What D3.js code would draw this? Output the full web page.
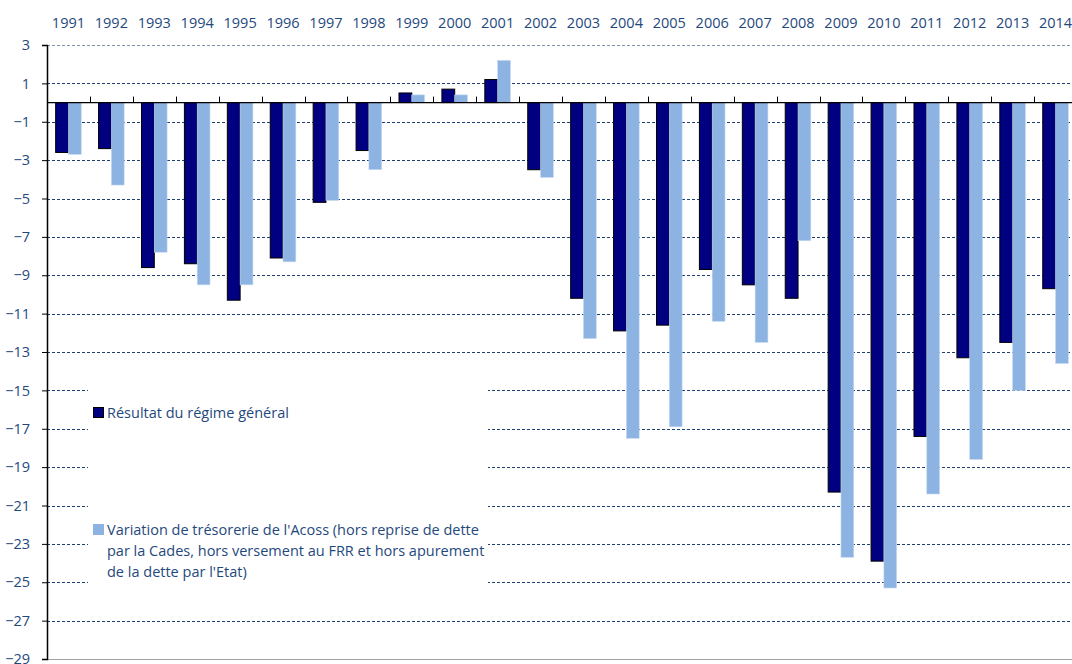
<!DOCTYPE html>
<html>
<head>
<meta charset="utf-8">
<script src="https://cdn.jsdelivr.net/npm/d3@7"></script>
<style>
  body { margin: 0; background: #fff; }
  svg { display: block; font-family: "Open Sans", sans-serif; }
  .lbl { fill: #1f497d; font-size: 14.5px; }
</style>
</head>
<body>
<svg id="chart" width="1072" height="664"></svg>
<script>
const years = ["1991","1992","1993","1994","1995","1996","1997","1998","1999","2000","2001","2002",
  "2003","2004","2005","2006","2007","2008","2009","2010","2011","2012","2013","2014"];
const resultat = [-2.6, -2.4, -8.6, -8.4, -10.3, -8.1, -5.2, -2.5, 0.5, 0.7, 1.2, -3.5,
  -10.2, -11.9, -11.6, -8.7, -9.5, -10.2, -20.3, -23.9, -17.4, -13.3, -12.5, -9.7];
const tresorerie = [-2.7, -4.3, -7.8, -9.5, -9.5, -8.3, -5.1, -3.5, 0.4, 0.4, 2.2, -3.9,
  -12.3, -17.5, -16.9, -11.4, -12.5, -7.2, -23.7, -25.3, -20.4, -18.6, -15.0, -13.6];
const yTicks = [3, 1, -1, -3, -5, -7, -9, -11, -13, -15, -17, -19, -21, -23, -25, -27, -29];
const seriesNames = ["Résultat du régime général",
  "Variation de trésorerie de l'Acoss (hors reprise de dette|par la Cades, hors versement au FRR et hors apurement|de la dette par l'Etat)"];

const svg = d3.select("#chart");
const mLeft = 47, mRight = 1077, mTop = 45, mBottom = 659;

const x = d3.scaleBand().domain(years).range([mLeft, mRight]);
const y = d3.scaleLinear().domain([-29, 3]).range([mBottom, mTop]);
const inner = d3.scaleBand().domain([0, 1]).range([0, 25.6]);
const offset = (x.bandwidth() - 25.6) / 2;

// gridlines
svg.append("g").selectAll("line")
  .data(yTicks.filter(d => d !== -29))
  .enter().append("line")
  .attr("x1", mLeft).attr("x2", mRight)
  .attr("y1", d => Math.round(y(d)) + 0.5).attr("y2", d => Math.round(y(d)) + 0.5)
  .attr("stroke", d => d === 3 ? "#8494a8" : "#1f3f6f")
  .attr("stroke-width", 1)
  .attr("stroke-dasharray", "3,2");

// bottom line
svg.append("line")
  .attr("x1", mLeft).attr("x2", mRight)
  .attr("y1", Math.round(y(-29)) + 0.5).attr("y2", Math.round(y(-29)) + 0.5)
  .attr("stroke", "#a0a0a0");

// legend background (covers the gridlines)
svg.append("rect")
  .attr("x", 88).attr("y", 384).attr("width", 400).attr("height", 214)
  .attr("fill", "#fff");

// bars
const groups = svg.append("g").selectAll("g")
  .data(years)
  .enter().append("g")
  .attr("transform", d => `translate(${x(d) + offset},0)`);

groups.append("rect")
  .attr("x", inner(0))
  .attr("width", inner.bandwidth())
  .attr("y", (d, i) => y(Math.max(0, resultat[i])))
  .attr("height", (d, i) => Math.abs(y(resultat[i]) - y(0)))
  .attr("fill", "#000080")
  .attr("stroke", "#000")
  .attr("stroke-width", 1);

groups.append("rect")
  .attr("x", inner(1))
  .attr("width", inner.bandwidth())
  .attr("y", (d, i) => y(Math.max(0, tresorerie[i])))
  .attr("height", (d, i) => Math.abs(y(tresorerie[i]) - y(0)))
  .attr("fill", "#8db3e2")
  .attr("stroke", "#c6d9f1")
  .attr("stroke-width", 0.6);

// x axis at zero
const xAxis = svg.append("g")
  .attr("transform", `translate(0,${y(0)})`);
xAxis.append("line")
  .attr("x1", mLeft).attr("x2", mRight)
  .attr("stroke", "#000").attr("stroke-width", 1.2);
xAxis.selectAll(".tk")
  .data(years.slice(1))
  .enter().append("line")
  .attr("class", "tk")
  .attr("x1", d => Math.round(x(d)) + 0.5).attr("x2", d => Math.round(x(d)) + 0.5)
  .attr("y1", 0).attr("y2", -6)
  .attr("stroke", "#000");

// year labels on top
svg.append("g").selectAll("text")
  .data(years)
  .enter().append("text")
  .attr("class", "lbl")
  .attr("x", d => x(d) + x.bandwidth() / 2)
  .attr("y", 28)
  .attr("text-anchor", "middle")
  .text(d => d);

// y axis
const yAxis = svg.append("g")
  .attr("transform", `translate(${mLeft},0)`)
  .call(d3.axisLeft(y).tickValues(yTicks).tickSize(5).tickPadding(12).tickFormat(d3.format("d")));
yAxis.select(".domain").attr("stroke", "#000").attr("stroke-width", 1.5);
yAxis.selectAll(".tick line").attr("stroke", "#000");
yAxis.selectAll(".tick text")
  .attr("class", "lbl")
  .attr("font-family", null)
  .attr("font-size", null)
  .attr("fill", null);
yAxis.attr("font-family", null).attr("font-size", null);

// legend
const legend = svg.append("g");
legend.append("rect")
  .attr("x", 93.5).attr("y", 407.5).attr("width", 10).attr("height", 10)
  .attr("fill", "#000080").attr("stroke", "#000");
legend.append("text")
  .attr("class", "lbl")
  .attr("x", 107).attr("y", 418)
  .text(seriesNames[0]);

legend.append("rect")
  .attr("x", 93).attr("y", 524).attr("width", 11).attr("height", 11)
  .attr("fill", "#8db3e2");
const t2 = legend.append("text")
  .attr("class", "lbl")
  .attr("x", 107).attr("y", 535);
seriesNames[1].split("|").forEach((line, i) => {
  t2.append("tspan").attr("x", 107).attr("dy", i === 0 ? 0 : 21).text(line);
});
</script>
</body>
</html>
